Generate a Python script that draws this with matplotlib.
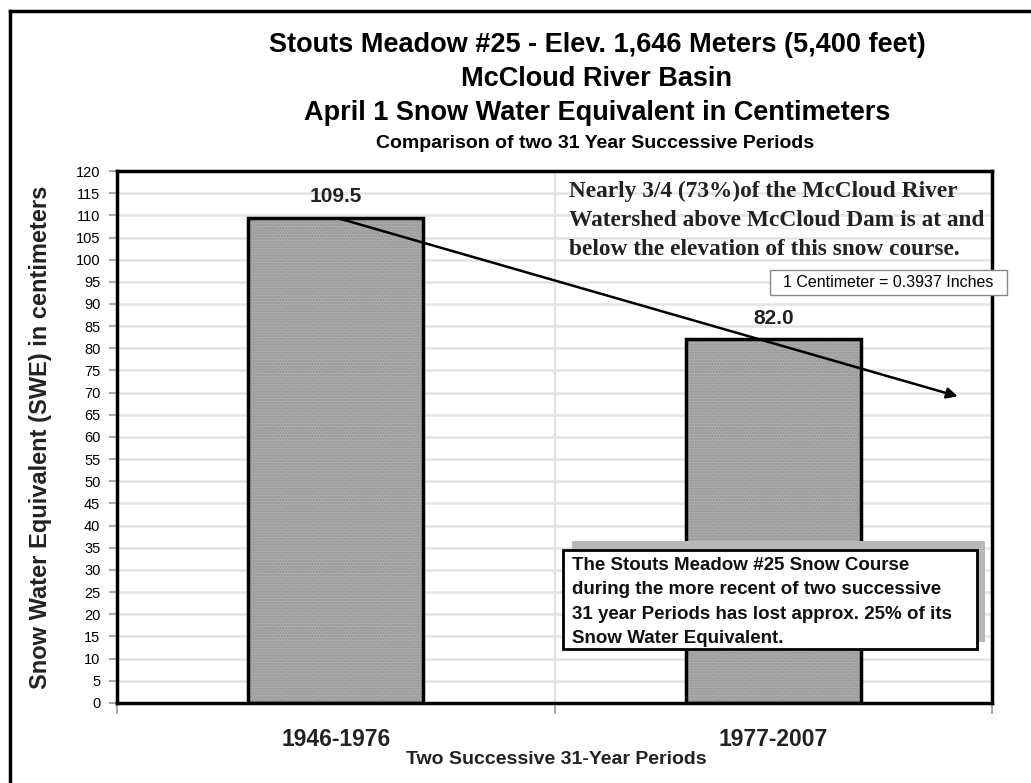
import matplotlib
matplotlib.use("Agg")
import matplotlib.pyplot as plt
from matplotlib import font_manager
from matplotlib.patches import Rectangle
from matplotlib.lines import Line2D

# data
periods = ["1946-1976", "1977-2007"]
swe_cm = [109.5, 82.0]
trend_end = (1.427, 69.0)   # where the drawn trend arrow stops
yticks = list(range(0, 125, 5))

names = {f.name for f in font_manager.fontManager.ttflist}
narrow = "Liberation Sans Narrow" if "Liberation Sans Narrow" in names else "Liberation Sans"
sans = "Liberation Sans"
serif = "Liberation Serif"

fig = plt.figure(figsize=(10.31, 7.83), dpi=100)
ax = fig.add_axes([0.1135, 0.1022, 0.849, 0.6794])

# outer frame (only top and left visible in the reference)
fig.add_artist(Line2D([10 / 1031, 1], [1 - 11 / 783, 1 - 11 / 783], color="black", lw=2.5))
fig.add_artist(Line2D([10 / 1031, 10 / 1031], [0, 1 - 11 / 783], color="black", lw=2.5))

# titles
fig.text(0.579, 1 - 45 / 783, "Stouts Meadow #25 - Elev. 1,646 Meters (5,400 feet)",
         ha="center", va="center", fontsize=19.5, fontweight="bold", family=narrow)
fig.text(0.579, 1 - 79 / 783, "McCloud River Basin",
         ha="center", va="center", fontsize=19.5, fontweight="bold", family=narrow)
fig.text(0.579, 1 - 113 / 783, "April 1 Snow Water Equivalent in Centimeters",
         ha="center", va="center", fontsize=19.5, fontweight="bold", family=narrow)
fig.text(0.577, 1 - 143 / 783, "Comparison of two 31 Year Successive Periods",
         ha="center", va="center", fontsize=14, fontweight="bold", family=narrow)

x = list(range(len(periods)))
ax.bar(x, swe_cm, width=0.4, color="#acacac", hatch="......", edgecolor="#939393", lw=0, zorder=2)
ax.bar(x, swe_cm, width=0.4, fill=False, edgecolor="black", lw=2.5, zorder=3)
for xi, v in zip(x, swe_cm):
    ax.text(xi, v + 2.5, f"{v:.1f}", ha="center", va="bottom", fontsize=15,
            fontweight="bold", family=sans, color="#222222")

ax.set_xlim(-0.5, 1.5)
ax.set_ylim(0, 120)
ax.set_yticks(yticks)
ax.set_yticklabels([str(t) for t in yticks], fontsize=10.5, family=sans)
ax.set_xticks([-0.5, 0.5, 1.5], minor=False)
ax.set_xticklabels([])
ax.set_xticks(x, minor=True)
ax.set_xticklabels(periods, minor=True, fontsize=16.5, fontweight="bold", family=sans,
                   color="#222222")
ax.tick_params(axis="x", which="minor", length=0, pad=18)
ax.tick_params(axis="x", which="major", length=8, color="#999999", width=1.2, direction="out")
ax.tick_params(axis="y", length=6, color="#999999", width=1.2, pad=6)

ax.grid(axis="y", color="#e4e4e4", lw=1.8, zorder=0)
ax.axvline(0.5, color="#e2e2e2", lw=1.5, zorder=0)
ax.set_axisbelow(True)
for s in ax.spines.values():
    s.set_linewidth(2.5)
    s.set_color("black")

ax.set_ylabel("Snow Water Equivalent (SWE) in centimeters", fontsize=17,
              fontweight="bold", family=sans, color="#222222")
ax.yaxis.set_label_coords(-0.074, 0.5)
ax.set_xlabel("Two Successive 31-Year Periods", fontsize=14, fontweight="bold", family=sans,
              color="#222222")
ax.xaxis.set_label_coords(0.502, -0.09)

# trend arrow
ax.annotate("", xy=trend_end, xytext=(x[0], swe_cm[0]),
            arrowprops=dict(arrowstyle="-|>", color="black", lw=1.8, mutation_scale=16),
            zorder=4)

# note about watershed
ax.text(0.5166, 0.981,
        "Nearly 3/4 (73%)of the McCloud River\nWatershed above McCloud Dam is at and\nbelow the elevation of this snow course.",
        transform=ax.transAxes, ha="left", va="top", fontsize=16.8, fontweight="bold",
        family=serif, color="#222222", linespacing=1.5, zorder=5)

# unit box
ax.add_patch(Rectangle((0.746, 0.767), 0.271, 0.047, transform=ax.transAxes,
                       facecolor="white", edgecolor="#888888", lw=1, clip_on=False, zorder=6))
ax.text(0.8815, 0.7905, "1 Centimeter = 0.3937 Inches", transform=ax.transAxes,
        ha="center", va="center", fontsize=11.5, family=narrow, zorder=7)

# loss box with shadow
ax.add_patch(Rectangle((0.52, 0.1147), 0.472, 0.1898, transform=ax.transAxes,
                       facecolor="#b8b8b8", edgecolor="none", clip_on=False, zorder=6))
ax.add_patch(Rectangle((0.5097, 0.1015), 0.4733, 0.1861, transform=ax.transAxes,
                       facecolor="white", edgecolor="black", lw=2, clip_on=False, zorder=7))
ax.text(0.5195, 0.274,
        "The Stouts Meadow #25 Snow Course\nduring the more recent of two successive\n31 year Periods has lost approx. 25% of its\nSnow Water Equivalent.",
        transform=ax.transAxes, ha="left", va="top", fontsize=13.5, fontweight="bold",
        family=sans, linespacing=1.56, color="#111111", zorder=8)

fig.savefig("out.png", dpi=100)
